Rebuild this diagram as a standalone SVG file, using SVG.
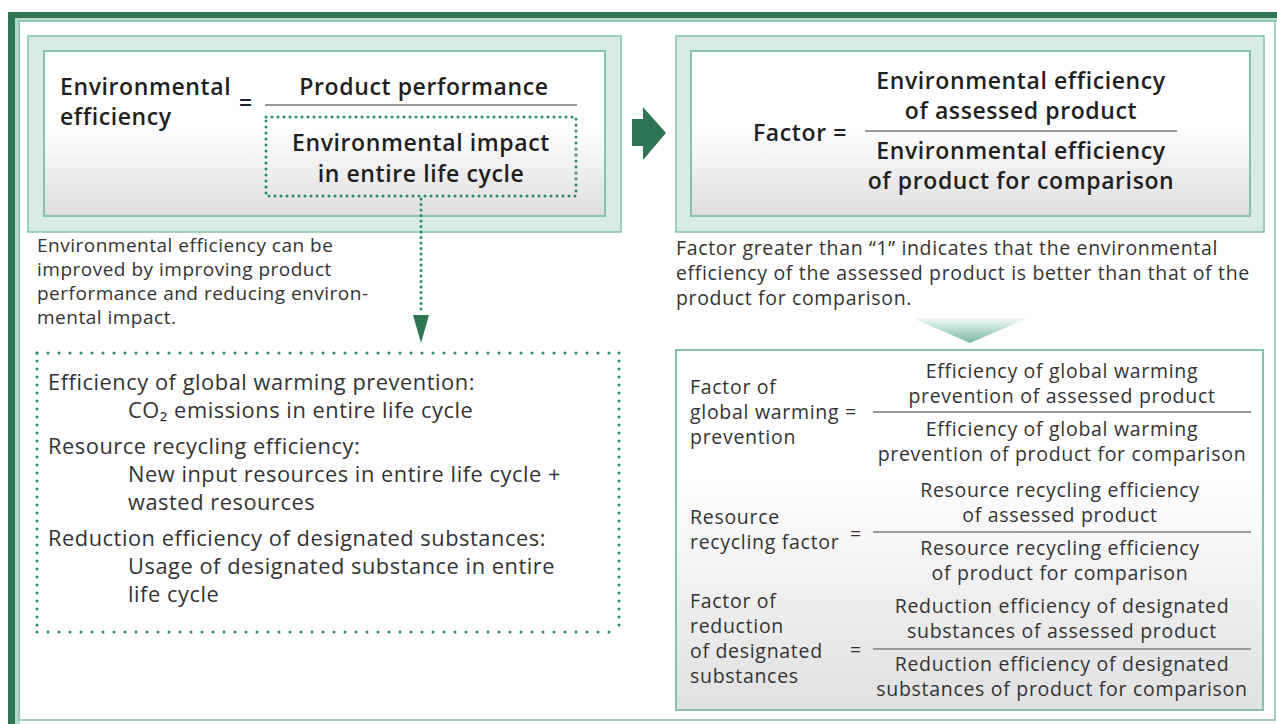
<svg xmlns="http://www.w3.org/2000/svg" width="1277" height="724" viewBox="0 0 1277 724">
<style>
text{font-family:"Open Sans","Noto Sans","Liberation Sans",sans-serif;fill:#2b2b2b}
.f{font-size:23px;font-weight:600;fill:#1f1f1f;letter-spacing:0.6px}
.pl{font-size:19px;fill:#333;letter-spacing:0.5px}
.pr{font-size:19.5px;fill:#333;letter-spacing:0.65px}
.b{font-size:21.8px;fill:#333;letter-spacing:0.55px}
.r{font-size:19.5px;fill:#333;letter-spacing:0.7px}
.c{text-anchor:middle}
.outer{fill:#d9ebe6;stroke:#86c2ad;stroke-width:1.5}
.inner{fill:url(#gIn);stroke:#86c2ad;stroke-width:2}
.bar{stroke:#9a9a9a;stroke-width:2}
.dot{fill:none;stroke:#2e8a64;stroke-width:3;stroke-linecap:round}
</style>
<defs>
<linearGradient id="gIn" x1="0" y1="0" x2="0" y2="1">
<stop offset="0" stop-color="#ffffff"/><stop offset="0.45" stop-color="#ffffff"/><stop offset="1" stop-color="#dedede"/>
</linearGradient>
<linearGradient id="gBox" x1="0" y1="0" x2="0" y2="1">
<stop offset="0" stop-color="#ffffff"/><stop offset="0.35" stop-color="#ffffff"/><stop offset="1" stop-color="#e0e0e0"/>
</linearGradient>
<linearGradient id="gTri" x1="0" y1="0" x2="0" y2="1">
<stop offset="0" stop-color="#f3f9f7"/><stop offset="1" stop-color="#78b7a4"/>
</linearGradient>
</defs>
<rect width="1277" height="724" fill="#ffffff"/>
<g id="frame">
<rect x="15" y="17" width="1262" height="5" fill="#b7dacd"/>
<rect x="15" y="17" width="5" height="707" fill="#b7dacd"/>
<rect x="19" y="21" width="1256" height="699" fill="none" stroke="#86c2ad" stroke-width="1.5"/>
<rect x="8" y="12" width="1269" height="6" fill="#2d7553"/>
<rect x="8" y="12" width="7" height="712" fill="#2d7553"/>
</g>
<g id="node-env-efficiency">
<rect class="outer" x="28" y="36" width="593" height="196"/>
<rect class="inner" x="44" y="51" width="561" height="165"/>
<text class="f"><tspan x="60" y="95">Environmental</tspan><tspan x="60" y="125">efficiency</tspan></text>
<text class="f" x="239" y="111">=</text>
<text class="f c" x="424" y="95">Product performance</text>
<line class="bar" x1="265" y1="105" x2="577" y2="105"/>
</g>
<g id="node-env-impact">
<rect class="dot" x="266" y="117" width="310" height="79" stroke-dasharray="0 6"/>
<text class="f c"><tspan x="421" y="151">Environmental impact</tspan><tspan x="421" y="182">in entire life cycle</tspan></text>
</g>
<g id="note-left">
<text class="pl"><tspan x="37" y="252">Environmental efficiency can be</tspan><tspan x="37" y="276">improved by improving product</tspan><tspan x="37" y="300">performance and reducing environ-</tspan><tspan x="37" y="324">mental impact.</tspan></text>
</g>
<g id="node-indicators">
<line class="dot" x1="37" y1="353" x2="619" y2="353" stroke-dasharray="0 11"/>
<line class="dot" x1="37" y1="632" x2="619" y2="632" stroke-dasharray="0 11"/>
<line class="dot" x1="37" y1="353" x2="37" y2="632" stroke-dasharray="0 8"/>
<line class="dot" x1="619" y1="353" x2="619" y2="632" stroke-dasharray="0 8"/>
<text class="b"><tspan x="48" y="390">Efficiency of global warming prevention:</tspan><tspan x="128" y="418">CO₂ emissions in entire life cycle</tspan></text>
<text class="b"><tspan x="48" y="454">Resource recycling efficiency:</tspan><tspan x="128" y="482">New input resources in entire life cycle +</tspan><tspan x="128" y="510">wasted resources</tspan></text>
<text class="b"><tspan x="48" y="546">Reduction efficiency of designated substances:</tspan><tspan x="128" y="574">Usage of designated substance in entire</tspan><tspan x="128" y="602">life cycle</tspan></text>
</g>
<g id="node-factor">
<rect class="outer" x="676" y="36" width="588" height="196"/>
<rect class="inner" x="691" y="51" width="559" height="165"/>
<text class="f" x="753" y="141">Factor =</text>
<text class="f c"><tspan x="1021" y="89">Environmental efficiency</tspan><tspan x="1021" y="119">of assessed product</tspan></text>
<line class="bar" x1="865" y1="131" x2="1177" y2="131"/>
<text class="f c"><tspan x="1021" y="159">Environmental efficiency</tspan><tspan x="1021" y="189">of product for comparison</tspan></text>
</g>
<g id="note-right">
<text class="pr"><tspan x="676" y="255">Factor greater than “1” indicates that the environmental</tspan><tspan x="676" y="280">efficiency of the assessed product is better than that of the</tspan><tspan x="676" y="305">product for comparison.</tspan></text>
</g>
<g id="node-factors">
<rect x="676" y="350" width="587" height="360" fill="url(#gBox)" stroke="#86c2ad" stroke-width="2"/>
<text class="r"><tspan x="690" y="394">Factor of</tspan><tspan x="690" y="419">global warming =</tspan><tspan x="690" y="444">prevention</tspan></text>
<text class="r c"><tspan x="1062" y="378">Efficiency of global warming</tspan><tspan x="1062" y="403">prevention of assessed product</tspan></text>
<line class="bar" x1="873" y1="412" x2="1251" y2="412"/>
<text class="r c"><tspan x="1062" y="436">Efficiency of global warming</tspan><tspan x="1062" y="461">prevention of product for comparison</tspan></text>
<text class="r"><tspan x="690" y="524">Resource</tspan><tspan x="690" y="549">recycling factor</tspan></text>
<text class="r" x="850" y="541">=</text>
<text class="r c"><tspan x="1060" y="497">Resource recycling efficiency</tspan><tspan x="1060" y="522">of assessed product</tspan></text>
<line class="bar" x1="873" y1="532" x2="1251" y2="532"/>
<text class="r c"><tspan x="1060" y="555">Resource recycling efficiency</tspan><tspan x="1060" y="580">of product for comparison</tspan></text>
<text class="r"><tspan x="690" y="608">Factor of</tspan><tspan x="690" y="633">reduction</tspan><tspan x="690" y="658">of designated</tspan><tspan x="690" y="683">substances</tspan></text>
<text class="r" x="850" y="657">=</text>
<text class="r c"><tspan x="1062" y="613">Reduction efficiency of designated</tspan><tspan x="1062" y="638">substances of assessed product</tspan></text>
<line class="bar" x1="873" y1="649" x2="1251" y2="649"/>
<text class="r c"><tspan x="1062" y="671">Reduction efficiency of designated</tspan><tspan x="1062" y="696">substances of product for comparison</tspan></text>
</g>
<g id="connectors">
<line class="dot" x1="421" y1="199" x2="421" y2="312" stroke-dasharray="0 5.5"/>
<polygon points="413,315 429,315 421,343" fill="#2d7553"/>
<polygon points="632,119 643,119 643,107 666,133 643,160 643,146 632,146" fill="#2d7553"/>
<polygon points="912,318 1028,318 970,343" fill="url(#gTri)"/>
</g>
</svg>
